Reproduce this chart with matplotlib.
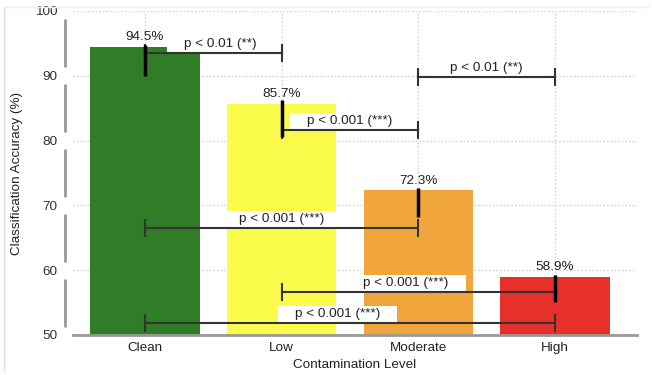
import numpy as np
import matplotlib
matplotlib.use("Agg")
import matplotlib.pyplot as plt
from matplotlib.lines import Line2D

plt.rcParams['font.family'] = ['Liberation Sans', 'DejaVu Sans']

# data
levels = ["Clean", "Low", "Moderate", "High"]
accuracy = [94.5, 85.7, 72.3, 58.9]
err_up = [0.2, 0.6, 0.4, 0.4]
err_down = [4.5, 5.1, 4.1, 3.8]
bar_colors = ["#2f7d26", "#fbfb4c", "#f0a63c", "#e8302a"]

# significance brackets: (left index, right index), bracket height, label
comp_left = [0, 1, 2, 0, 1, 0]
comp_right = [1, 2, 3, 2, 3, 3]
comp_y = [93.5, 81.6, 89.8, 66.5, 56.6, 51.9]
comp_labels = ["p < 0.01 (**)", "p < 0.001 (***)", "p < 0.01 (**)",
               "p < 0.001 (***)", "p < 0.001 (***)", "p < 0.001 (***)"]

yticks = [50, 60, 70, 80, 90, 100]

fs = 9.7
fig = plt.figure(figsize=(6.52, 3.75), dpi=100)
ax = fig.add_axes([0.112, 0.1067, 0.865, 0.864])

x = np.arange(len(levels))
ax.bar(x, accuracy, width=0.8, color=bar_colors, zorder=2)
ax.errorbar(x, accuracy, yerr=[err_down, err_up], fmt='none',
            ecolor='black', elinewidth=2.5, capsize=0, zorder=6)

for xi, v in zip(x, accuracy):
    ax.text(xi, v + 0.6, f"{v}%", ha='center', va='bottom',
            fontsize=fs, color='#222222', zorder=7)

cap = 1.4
# small horizontal nudges of the p-value labels (layout only)
label_dx = [0.05, 0.0, 0.0, 0.0, -0.09, -0.09]
for l, r, yb, lab, dx in zip(comp_left, comp_right, comp_y, comp_labels, label_dx):
    ax.plot([l, r], [yb, yb], color='#333333', lw=1.5, zorder=5)
    ax.vlines([l, r], yb - cap, yb + cap, color='#333333', lw=1.5, zorder=5)
    ax.text((l + r) / 2 + dx, yb + 1.35, "    " + lab + "    ", ha='center',
            va='center', fontsize=fs, color='#222222', zorder=4,
            bbox=dict(boxstyle='square,pad=0.15', fc='white', ec='none'))

ax.set_xlim(-0.527, 3.6)
ax.set_ylim(50, 100)
ax.set_xticks(x)
ax.set_xticklabels(levels)
ax.set_yticks(yticks)
ax.tick_params(axis='y', length=0, pad=11, labelsize=fs, labelcolor='#333333')
ax.tick_params(axis='x', length=0, pad=5, labelsize=fs, labelcolor='#222222')

ax.grid(True, linestyle=':', color='#cccccc', lw=1)
ax.set_axisbelow(True)

for s in ['top', 'right', 'left']:
    ax.spines[s].set_visible(False)
ax.spines['bottom'].set_color('#999999')
ax.spines['bottom'].set_linewidth(2)

# broken left axis line, offset from the plot area
gap = 1.3
ax.vlines([-0.0142] * (len(yticks) - 1),
          [t + gap for t in yticks[:-1]], [t - gap for t in yticks[1:]],
          transform=ax.get_yaxis_transform(), color='#999999', lw=2,
          clip_on=False)

ax.set_ylabel("Classification Accuracy (%)", fontsize=fs, color='#222222')
ax.yaxis.set_label_coords(-0.088, 0.5)
ax.set_xlabel("Contamination Level", fontsize=fs, color='#222222', labelpad=4)

# faint screenshot border
fig.add_artist(Line2D([0.006, 0.006], [0.01, 0.982], color='#dddddd', lw=1))
fig.add_artist(Line2D([0.006, 0.995], [0.982, 0.982], color='#eeeeee', lw=1))

fig.savefig("out.png", dpi=100)
